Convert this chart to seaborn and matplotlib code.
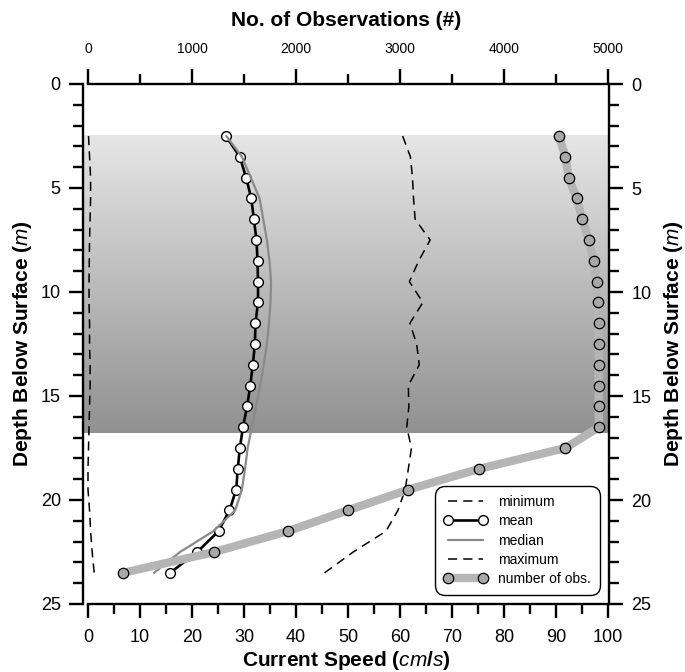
import numpy as np
import pandas as pd
import matplotlib
matplotlib.use("Agg")
import matplotlib.pyplot as plt
import seaborn as sns
from matplotlib.lines import Line2D
from matplotlib.colors import LinearSegmentedColormap

# ---------------- data ----------------
depth = [2.5, 3.5, 4.5, 5.5, 6.5, 7.5, 8.5, 9.5, 10.5, 11.5, 12.5,
         13.5, 14.5, 15.5, 16.5, 17.5, 18.5, 19.5, 20.5, 21.5, 22.5, 23.5]
min_speed = [0.1, 0.3, 0.5, 0.5, 0.4, 0.3, 0.25, 0.2, 0.2, 0.3, 0.3,
             0.4, 0.4, 0.3, 0.2, 0.1, 0.0, 0.0, 0.3, 0.5, 0.8, 1.2]
mean_speed = [26.5, 29.2, 30.4, 31.4, 31.9, 32.4, 32.6, 32.7, 32.7, 32.2, 32.1,
              31.7, 31.2, 30.6, 29.8, 29.2, 28.8, 28.5, 27.2, 25.1, 21.0, 15.8]
median_speed = [26.6, 29.6, 31.3, 33.0, 33.7, 34.4, 34.9, 35.2, 35.1, 34.8, 34.4,
                33.8, 33.1, 32.3, 31.5, 30.7, 30.2, 29.6, 28.3, 24.1, 17.7, 12.7]
max_speed = [60.5, 62.0, 62.4, 62.6, 62.9, 65.8, 63.6, 61.8, 64.4, 61.9, 63.2,
             63.7, 61.6, 61.7, 61.3, 62.2, 61.6, 61.0, 59.6, 57.3, 51.0, 45.5]
n_obs = [4529, 4590, 4622, 4699, 4753, 4814, 4862, 4891, 4901, 4910, 4910,
         4910, 4910, 4910, 4913, 4590, 3763, 3080, 2497, 1920, 1215, 340]

shade_top, shade_bottom = 2.5, 16.8
speed_ticks = list(range(0, 101, 10))
obs_ticks = list(range(0, 5001, 1000))
depth_ticks = list(range(0, 26, 5))

df = pd.DataFrame({"depth": depth, "min": min_speed, "mean": mean_speed,
                   "median": median_speed, "max": max_speed, "obs": n_obs})

# ---------------- style ----------------
sns.set_style("ticks")
plt.rcParams["font.family"] = ["Liberation Sans", "DejaVu Sans"]
plt.rcParams["mathtext.fontset"] = "custom"
plt.rcParams["mathtext.it"] = "Liberation Sans:italic"
plt.rcParams["mathtext.rm"] = "Liberation Sans:bold"
plt.rcParams["mathtext.bf"] = "Liberation Sans:bold"
for k in ["text.color", "axes.labelcolor", "xtick.color", "ytick.color",
          "xtick.labelcolor", "ytick.labelcolor", "axes.edgecolor"]:
    plt.rcParams[k] = "black"

W, H = 685, 672
fig = plt.figure(figsize=(W / 100, H / 100), dpi=100)
L, R, T, B = 83, 609, 84, 604
ax = fig.add_axes([L / W, 1 - B / H, (R - L) / W, (B - T) / H])

x0, x1 = -0.96, 100.19
ax_t = ax.twiny()
ax_r = ax.twinx()

# gradient band
cmap = LinearSegmentedColormap.from_list("band", ["#e6e6e6", "#919191"])
grad = np.linspace(0, 1, 256).reshape(-1, 1)
ax.imshow(grad, cmap=cmap, aspect="auto", origin="upper",
          extent=(x0, x1, shade_bottom, shade_top), zorder=0, interpolation="bilinear")

dash = (0, (6, 4))
sns.lineplot(data=df, x="min", y="depth", orient="y", estimator=None, ax=ax,
             color="black", lw=1.1, linestyle=dash, legend=False, zorder=2)
sns.lineplot(data=df, x="max", y="depth", orient="y", estimator=None, ax=ax,
             color="black", lw=1.1, linestyle=dash, legend=False, zorder=2)
sns.lineplot(data=df, x="mean", y="depth", orient="y", estimator=None, ax=ax,
             color="black", lw=1.9, marker="o", markersize=7, markerfacecolor="white",
             markeredgecolor="black", markeredgewidth=1.0, legend=False, zorder=3)
sns.lineplot(data=df, x="median", y="depth", orient="y", estimator=None, ax=ax,
             color="#8a8a8a", lw=1.6, legend=False, zorder=4)
sns.lineplot(data=df, x="obs", y="depth", orient="y", estimator=None, ax=ax_t,
             color="#b5b5b5", lw=6, marker="o", markersize=7.5, markerfacecolor="#a8a8a8",
             markeredgecolor="black", markeredgewidth=0.9, legend=False, zorder=5)

ax.set_xlim(x0, x1)
ax.set_ylim(25, 0)
ax_t.set_xlim(x0 * 50, x1 * 50)
ax_t.set_ylim(25, 0)
ax_r.set_ylim(25, 0)

lw_sp = 1.7
# main axis: bottom + left
for s in ["top", "right"]:
    ax.spines[s].set_visible(False)
ax.spines["bottom"].set_bounds(0, 100)
ax.spines["bottom"].set_linewidth(lw_sp)
ax.spines["left"].set_linewidth(lw_sp)
ax.set_xticks(speed_ticks)
ax.set_xticks(list(range(5, 100, 10)), minor=True)
ax.set_yticks(depth_ticks)
ax.set_yticks(list(range(0, 26)), minor=True)
ax.tick_params(which="major", direction="out", length=10, width=lw_sp, labelsize=13, pad=6)
ax.tick_params(axis="x", which="major", pad=8)
ax.tick_params(which="minor", direction="out", length=7.5, width=lw_sp)
ax.set_xlabel(r"Current Speed ($\mathit{cm/s}$)", fontsize=15, fontweight="bold", labelpad=2)
ax.set_ylabel(r"Depth Below Surface ($\mathit{m}$)", fontsize=15, fontweight="bold", labelpad=5)

# top axis
for s in ["bottom", "left", "right"]:
    ax_t.spines[s].set_visible(False)
ax_t.spines["top"].set_bounds(0, 5000)
ax_t.spines["top"].set_linewidth(lw_sp)
ax_t.set_xticks(obs_ticks)
ax_t.set_xticks(list(range(500, 5000, 1000)), minor=True)
ax_t.tick_params(axis="x", which="major", direction="out", length=11, width=lw_sp,
                 labelsize=10, pad=9)
ax_t.tick_params(axis="x", which="minor", direction="out", length=7, width=lw_sp)
ax_t.set_xlabel("No. of Observations (#)", fontsize=15, fontweight="bold", labelpad=12)
ax_t.set_ylabel("")
ax_t.tick_params(axis="y", left=False, labelleft=False, right=False, labelright=False)

# right axis
for s in ["bottom", "left", "top"]:
    ax_r.spines[s].set_visible(False)
ax_r.spines["right"].set_linewidth(lw_sp)
ax_r.set_yticks(depth_ticks)
ax_r.set_yticks(list(range(0, 26)), minor=True)
ax_r.tick_params(axis="y", which="major", direction="out", length=10, width=lw_sp,
                 labelsize=13, pad=6)
ax_r.tick_params(axis="y", which="minor", direction="out", length=7.5, width=lw_sp)
ax_r.set_ylabel(r"Depth Below Surface ($\mathit{m}$)", fontsize=15, fontweight="bold",
                rotation=90, labelpad=8)

# legend
handles = [
    Line2D([], [], color="black", lw=1.1, linestyle=dash),
    Line2D([], [], color="black", lw=1.9, marker="o", markersize=7,
           markerfacecolor="white", markeredgecolor="black", markeredgewidth=1.0),
    Line2D([], [], color="#8a8a8a", lw=1.6),
    Line2D([], [], color="black", lw=1.1, linestyle=dash),
    Line2D([], [], color="#b5b5b5", lw=6, marker="o", markersize=7.5,
           markerfacecolor="#a8a8a8", markeredgecolor="black", markeredgewidth=0.9),
]
labels = ["minimum", "mean", "median", "maximum", "number of obs."]
leg = ax_r.legend(handles, labels, loc="lower right", bbox_to_anchor=(0.983, 0.017),
                  bbox_transform=ax_r.transAxes, borderaxespad=0, fontsize=10,
                  numpoints=2, handlelength=3.1, handletextpad=0.8, labelspacing=0.38,
                  borderpad=0.65, fancybox=True, framealpha=1, edgecolor="black")
leg.get_frame().set_linewidth(1.0)
leg.get_frame().set_boxstyle("round", pad=0, rounding_size=0.7)

fig.savefig("out.png", dpi=100)
